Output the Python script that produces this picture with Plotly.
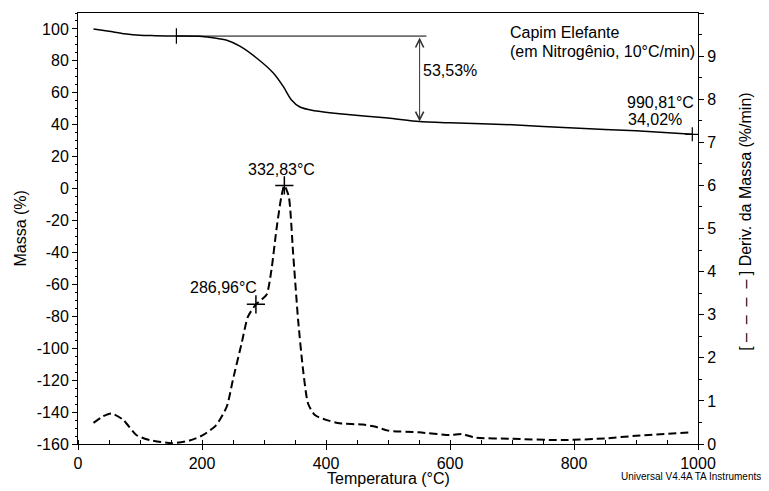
import plotly.graph_objects as go

# --- Data ---
# TGA (mass %) vs temperature (°C)
tga_T = [25, 50, 75, 100, 125, 158.7, 200, 240, 261, 288, 315, 331, 344, 358, 379, 422,
         500, 550, 600, 700, 800, 900, 990.81]
tga_M = [100, 98.6, 97.0, 96.0, 95.8, 95.55, 95.3, 92.9, 89.2, 81.8, 72.4, 64.0, 55.7, 51.1,
         48.9, 46.9, 44.2, 42.0, 41.2, 40.0, 37.9, 36.2, 34.02]

# DTG (derivative mass %/min) vs temperature (°C)
dtg_T = [25, 40, 54, 73, 94, 116, 151, 180, 202, 223, 240, 250, 264, 274, 286.96, 304, 312,
         320, 328, 332.83, 340, 347, 355, 363, 371, 382, 400, 422, 460, 480, 500, 550, 600, 620,
         640, 700, 780, 850, 900, 990]
dtg_D = [0.49, 0.64, 0.71, 0.56, 0.21, 0.09, 0.02, 0.08, 0.21, 0.44, 0.87, 1.5, 2.34, 2.95,
         3.24, 3.46, 4.04, 4.97, 5.74, 6.0, 5.74, 4.42, 2.88, 1.72, 0.94, 0.67, 0.56, 0.48,
         0.45, 0.40, 0.31, 0.27, 0.21, 0.23, 0.15, 0.12, 0.09, 0.13, 0.19, 0.27]

# Events / annotations
onset_T, onset_M = 158.7, 95.55
step_line_end_T = 562
arrow_T = 551
mass_loss = 53.53
end_T, end_M = 990.81, 34.02
peak_T = [286.96, 332.83]
peak_D = [3.24, 6.0]

x_ticks = [0, 200, 400, 600, 800, 1000]
y_ticks = list(range(-160, 101, 20))
y_ticktext = [str(v) for v in y_ticks]  # plain hyphen minus as in the reference
y2_ticks = list(range(0, 11))

FONT = "Liberation Sans, Arial, sans-serif"

fig = go.Figure()

fig.add_trace(go.Scatter(x=tga_T, y=tga_M, mode="lines", line=dict(color="black", width=1.5, shape="spline", smoothing=0.6),
                         yaxis="y", showlegend=False))
fig.add_trace(go.Scatter(x=dtg_T, y=dtg_D, mode="lines",
                         line=dict(color="black", width=2, dash="8px,4px", shape="spline", smoothing=0.6),
                         yaxis="y2", showlegend=False))

# step reference line
fig.add_trace(go.Scatter(x=[onset_T, step_line_end_T], y=[onset_M, onset_M], mode="lines",
                         line=dict(color="black", width=1), yaxis="y", showlegend=False))
# onset tick
fig.add_trace(go.Scatter(x=[onset_T], y=[onset_M], mode="markers",
                         marker=dict(symbol="line-ns", size=11, line=dict(color="black", width=1.2)),
                         yaxis="y", showlegend=False))
# end cross
fig.add_trace(go.Scatter(x=[end_T], y=[end_M], mode="markers",
                         marker=dict(symbol="cross-thin", size=10, line=dict(color="black", width=1.2)),
                         yaxis="y", showlegend=False))
# peak crosses
fig.add_trace(go.Scatter(x=peak_T, y=peak_D, mode="markers",
                         marker=dict(symbol="cross-thin", size=13, line=dict(color="black", width=1.5)),
                         yaxis="y2", showlegend=False))

ann = []
# double arrow for mass loss
ann.append(dict(x=arrow_T, y=onset_M - mass_loss, ax=arrow_T, ay=onset_M, xref="x", yref="y",
                axref="x", ayref="y", showarrow=True, arrowhead=5, startarrowhead=5,
                arrowside="end+start", arrowsize=1.6, arrowwidth=1, arrowcolor="#333", text=""))
ann.append(dict(x=arrow_T, y=onset_M - mass_loss / 2, xref="x", yref="y", text="53,53%",
                showarrow=False, xanchor="left", yanchor="middle", xshift=1, yshift=8,
                font=dict(size=16, family=FONT, color="black")))
ann.append(dict(x=peak_T[1], y=peak_D[1], xref="x", yref="y2", text="332,83°C", showarrow=False,
                xanchor="center", yanchor="bottom", xshift=-3, yshift=5,
                font=dict(size=16, family=FONT, color="black")))
ann.append(dict(x=peak_T[0], y=peak_D[0], xref="x", yref="y2", text="286,96°C", showarrow=False,
                xanchor="right", yanchor="bottom", xshift=3, yshift=6,
                font=dict(size=16, family=FONT, color="black")))
ann.append(dict(x=end_T, y=end_M, xref="x", yref="y", text="990,81°C", showarrow=False,
                xanchor="right", yanchor="middle", xshift=4, yshift=32,
                font=dict(size=16, family=FONT, color="black")))
ann.append(dict(x=end_T, y=end_M, xref="x", yref="y", text="34,02%", showarrow=False,
                xanchor="right", yanchor="middle", xshift=-8, yshift=15,
                font=dict(size=16, family=FONT, color="black")))
ann.append(dict(x=0.6935, y=0.955, xref="paper", yref="paper", text="Capim Elefante", showarrow=False,
                xanchor="left", yanchor="middle", font=dict(size=16, family=FONT, color="black")))
ann.append(dict(x=0.6935, y=0.911, xref="paper", yref="paper", text="(em Nitrogênio, 10°C/min)",
                showarrow=False, xanchor="left", yanchor="middle",
                font=dict(size=16, family=FONT, color="black")))
# axis titles
ann.append(dict(x=-0.0935, y=0.5, xref="paper", yref="paper", text="Massa (%)", textangle=-90,
                showarrow=False, xanchor="center", yanchor="middle",
                font=dict(size=16, family=FONT, color="black")))
ann.append(dict(x=1.0755, y=0.515, xref="paper", yref="paper",
                text="[ –  –  –  – ] Deriv. da Massa (%/min)", textangle=-90,
                showarrow=False, xanchor="center", yanchor="middle",
                font=dict(size=16, family=FONT, color="black")))
ann.append(dict(x=0.5, y=-0.079, xref="paper", yref="paper", text="Temperatura (°C)",
                showarrow=False, xanchor="center", yanchor="middle",
                font=dict(size=16, family=FONT, color="black")))
ann.append(dict(x=(763 - 78) / 620, y=(444 - 476) / 431, xref="paper", yref="paper",
                text="Universal V4.4A TA Instruments",
                showarrow=False, xanchor="right", yanchor="middle",
                font=dict(size=10, family=FONT, color="black")))

# The page body adds an 8px offset, so the figure is sized/margined to compensate.
fig.update_layout(
    width=761, height=483,
    margin=dict(l=70, r=71, t=5, b=47, autoexpand=False),
    paper_bgcolor="white", plot_bgcolor="white",
    font=dict(family=FONT, size=16, color="black"),
    annotations=ann,
    xaxis=dict(range=[0, 1000], tickvals=x_ticks, showgrid=False, zeroline=False, automargin=False,
               showline=True, linecolor="black", linewidth=1, mirror=True,
               ticks="outside", ticklen=5, tickcolor="black",
               minor=dict(dtick=50, ticks="inside", ticklen=4, tickcolor="black", showgrid=False),
               tickfont=dict(size=16)),
    yaxis=dict(range=[-160, 110], tickvals=y_ticks, ticktext=y_ticktext, showgrid=False,
               zeroline=False, automargin=False,
               showline=True, linecolor="black", linewidth=1,
               ticks="outside", ticklen=5, tickcolor="black",
               minor=dict(dtick=5, ticks="outside", ticklen=2, tickcolor="black", showgrid=False),
               tickfont=dict(size=16)),
    yaxis2=dict(range=[0, 10], tickvals=y2_ticks, overlaying="y", side="right", showgrid=False,
                zeroline=False, automargin=False, showline=True, linecolor="black", linewidth=1,
                ticks="outside", ticklen=5, tickcolor="black",
                minor=dict(dtick=0.5, ticks="outside", ticklen=3, tickcolor="black", showgrid=False),
                tickfont=dict(size=16)),
)

fig.write_html("out.html")
